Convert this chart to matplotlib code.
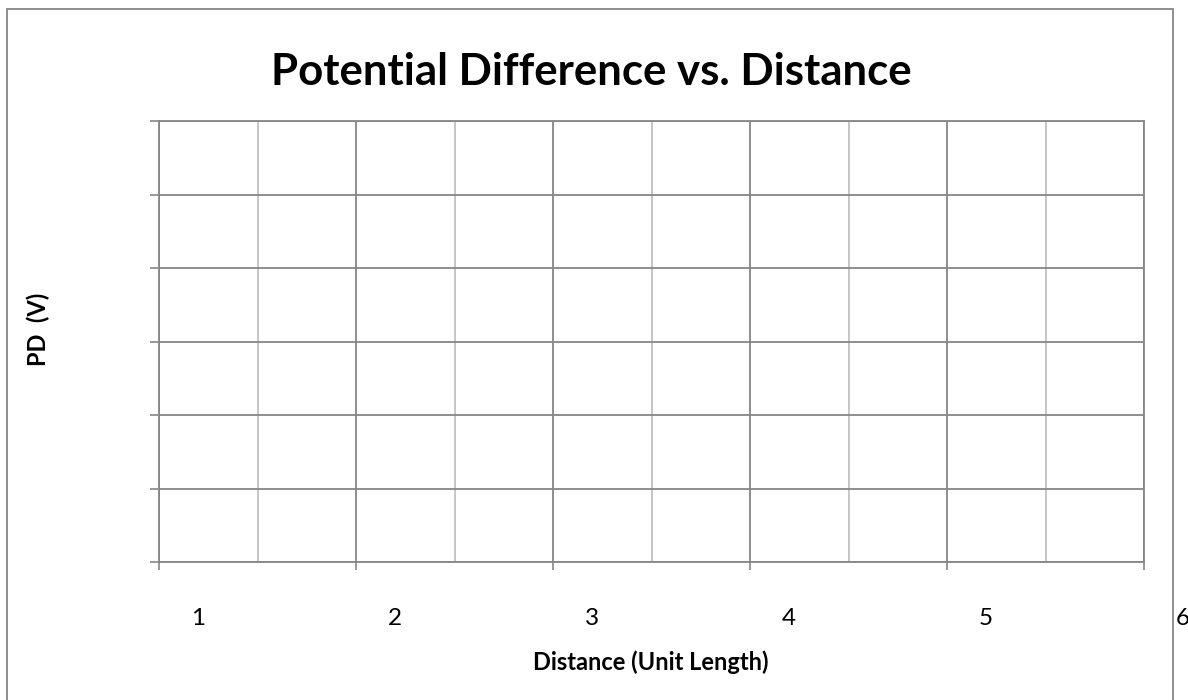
import matplotlib
matplotlib.use("Agg")
import matplotlib.pyplot as plt
import matplotlib.transforms as mtransforms
from matplotlib.patches import Rectangle
import numpy as np

# ---- data (empty chart: only axes scaffolding) ----
title = "Potential Difference vs. Distance"
x_title = "Distance (Unit Length)"
y_title = "PD  (V)"
x_tick_labels = ["1", "2", "3", "4", "5", "6"]
x_major = [0, 1, 2, 3, 4, 5]
x_minor = [0.5, 1.5, 2.5, 3.5, 4.5]
y_major = [0, 1, 2, 3, 4, 5, 6]

plt.rcParams['font.family'] = ['Lato', 'DejaVu Sans']

W, H = 1188, 700
fig = plt.figure(figsize=(W / 100, H / 100), dpi=100)

major_c = "#868686"
minor_c = "#c0c0c0"

# outer chart border
fig.patches.append(Rectangle((7 / W, -0.05), (1173 - 7) / W, (H - 9) / H + 0.05,
                             transform=fig.transFigure, fill=False,
                             edgecolor=major_c, linewidth=1.3))

ax = fig.add_axes([159 / W, (H - 562) / H, (1144 - 159) / W, (562 - 121) / H])
ax.set_xlim(0, 5)
ax.set_ylim(0, 6)

ax.set_xticks(x_major)
ax.set_xticklabels(x_tick_labels, fontsize=17.5)
ax.set_xticks(x_minor, minor=True)
ax.set_yticks(y_major)
ax.set_yticklabels([])

ax.tick_params(axis='x', which='major', direction='out', length=6, width=1.2,
               color=major_c, pad=27, labelcolor='black')
ax.tick_params(axis='x', which='minor', length=0)
ax.tick_params(axis='y', which='major', direction='out', length=6.5, width=1.2,
               color=major_c)

# shift tick labels to the right, as in the reference
offset = mtransforms.ScaledTranslation(39 / 100, 0, fig.dpi_scale_trans)
for lab in ax.get_xticklabels():
    lab.set_transform(lab.get_transform() + offset)
    lab.set_clip_on(False)

ax.grid(True, which='major', axis='both', color=major_c, linewidth=1.3)
ax.grid(True, which='minor', axis='x', color=minor_c, linewidth=1.3)
ax.set_axisbelow(True)
for s in ax.spines.values():
    s.set_color(major_c)
    s.set_linewidth(1.3)

fig.text(591 / W, 1 - 72 / H, title, ha='center', va='center',
         fontsize=31.5, fontweight='bold')
fig.text(651 / W, 1 - 662 / H, x_title, ha='center', va='center',
         fontsize=17, fontweight='bold')
fig.text(38 / W, 1 - 329 / H, y_title, ha='center', va='center',
         fontsize=17, fontweight='bold', rotation=90)

fig.savefig("out.png", dpi=100)
